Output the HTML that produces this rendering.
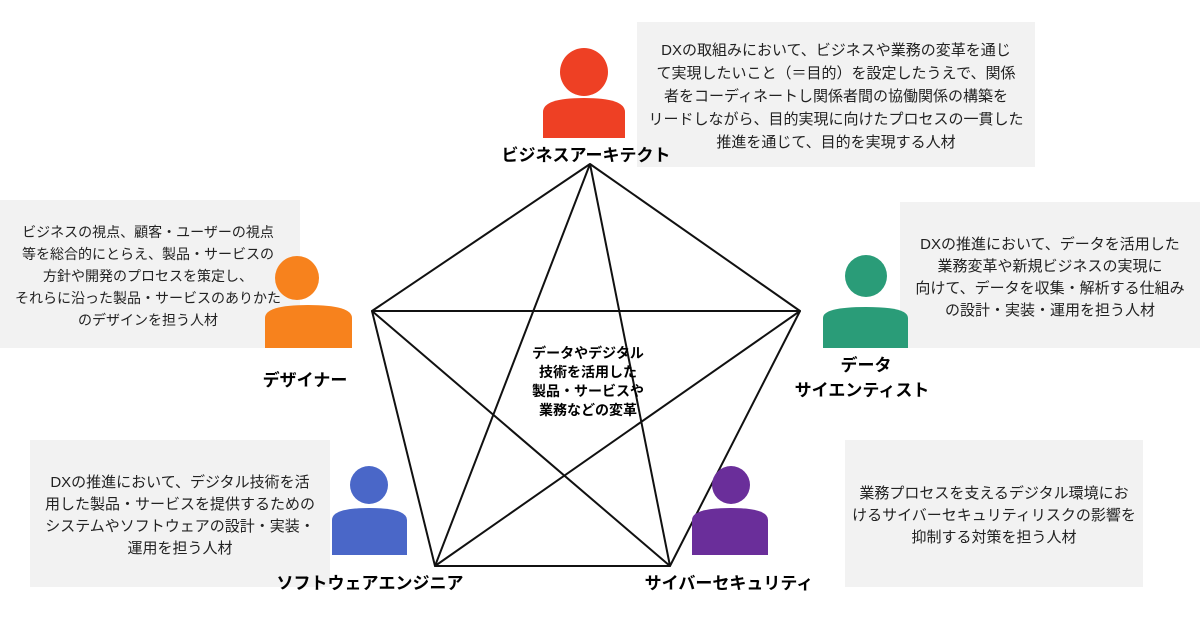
<!DOCTYPE html>
<html><head><meta charset="utf-8"><style>
body{margin:0;background:#fff;width:1200px;height:630px;overflow:hidden}
svg{display:block}
text{font-family:"Liberation Sans","Noto Sans CJK JP",sans-serif}
.d{font-size:15px;fill:#222;text-anchor:middle}
.s{font-size:14px}
.b{font-size:17px;font-weight:bold;fill:#000;text-anchor:middle}
.c{font-size:14px;font-weight:bold;fill:#000;text-anchor:middle}
</style></head><body>
<svg width="1200" height="630" viewBox="0 0 1200 630">
<rect x="637" y="22" width="398" height="145" fill="#f2f2f2"/>
<rect x="0" y="200" width="300" height="148" fill="#f2f2f2"/>
<rect x="900" y="202" width="300" height="146" fill="#f2f2f2"/>
<rect x="30" y="440" width="300" height="147" fill="#f2f2f2"/>
<rect x="845" y="440" width="298" height="147" fill="#f2f2f2"/>
<g stroke="#111" stroke-width="2" fill="none" stroke-linejoin="round">
<polygon points="590,164 800,311 670,566 435,566 372,311"/>
<polyline points="590,164 435,566 800,311 372,311 670,566 590,164"/>
</g>
<g class="d">
<text x="836" y="55">DXの取組みにおいて、ビジネスや業務の変革を通じ</text>
<text x="836" y="78">て実現したいこと（＝目的）を設定したうえで、関係</text>
<text x="836" y="101">者をコーディネートし関係者間の協働関係の構築を</text>
<text x="836" y="124">リードしながら、目的実現に向けたプロセスの一貫した</text>
<text x="836" y="147">推進を通じて、目的を実現する人材</text>
<g class="s">
<text x="148" y="237">ビジネスの視点、顧客・ユーザーの視点</text>
<text x="148" y="259">等を総合的にとらえ、製品・サービスの</text>
<text x="148" y="281">方針や開発のプロセスを策定し、</text>
<text x="148" y="303">それらに沿った製品・サービスのありかた</text>
<text x="148" y="325">のデザインを担う人材</text>
</g>
<text x="1050" y="249">DXの推進において、データを活用した</text>
<text x="1050" y="271">業務変革や新規ビジネスの実現に</text>
<text x="1050" y="293">向けて、データを収集・解析する仕組み</text>
<text x="1050" y="315">の設計・実装・運用を担う人材</text>
<text x="180" y="487">DXの推進において、デジタル技術を活</text>
<text x="180" y="509">用した製品・サービスを提供するための</text>
<text x="180" y="531">システムやソフトウェアの設計・実装・</text>
<text x="180" y="553">運用を担う人材</text>
<text x="994" y="498">業務プロセスを支えるデジタル環境にお</text>
<text x="994" y="520">けるサイバーセキュリティリスクの影響を</text>
<text x="994" y="542">抑制する対策を担う人材</text>
</g>
<g class="c">
<text x="588" y="358">データやデジタル</text>
<text x="588" y="377">技術を活用した</text>
<text x="588" y="396">製品・サービスや</text>
<text x="588" y="415">業務などの変革</text>
</g>
<g fill="#ee4024"><circle cx="584" cy="72" r="24"/><path d="M543,138 V112 Q543,98 584,98 Q625,98 625,112 V138 Z"/></g>
<g fill="#f7821d"><circle cx="297" cy="278" r="22"/><path d="M265,348 V318 Q265,305 308,305 Q352,305 352,318 V348 Z"/></g>
<g fill="#2a9c78"><circle cx="866" cy="276" r="21"/><path d="M823,348 V318 Q823,307 866,307 Q908,307 908,318 V348 Z"/></g>
<g fill="#4a67c8"><circle cx="369" cy="485" r="19"/><path d="M332,555 V520 Q332,508 369,508 Q407,508 407,520 V555 Z"/></g>
<g fill="#6a2e9a"><circle cx="731" cy="485" r="19"/><path d="M692,555 V520 Q692,508 731,508 Q768,508 768,520 V555 Z"/></g>
<g class="b">
<text x="586" y="161">ビジネスアーキテクト</text>
<text x="305" y="386">デザイナー</text>
<text x="866" y="371">データ</text>
<text x="862" y="396">サイエンティスト</text>
<text x="370" y="589">ソフトウェアエンジニア</text>
<text x="729" y="589">サイバーセキュリティ</text>
</g>
</svg>
</body></html>
